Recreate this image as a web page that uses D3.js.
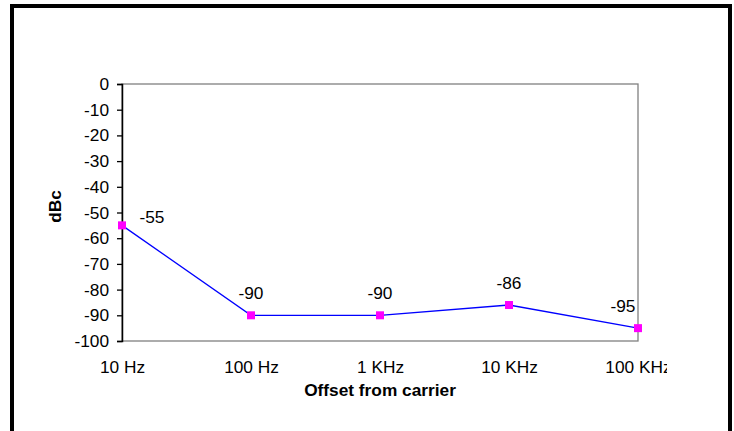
<!DOCTYPE html>
<html><head><meta charset="utf-8">
<script src="https://cdn.jsdelivr.net/npm/d3@7"></script>
<style>
html,body{margin:0;padding:0;background:#fff;}
svg{display:block;font-family:"Liberation Sans",Arial,sans-serif;}
</style></head>
<body>
<svg id="chart" width="734" height="431"></svg>
<script>
const categories = ["10 Hz", "100 Hz", "1 KHz", "10 KHz", "100 KHz"];
const values = [-55, -90, -90, -86, -95];
const yTicks = [0, -10, -20, -30, -40, -50, -60, -70, -80, -90, -100];
const xTitle = "Offset from carrier";
const yTitle = "dBc";

const svg = d3.select("#chart");
const W = 734, H = 431;
const plot = {left: 122, right: 638, top: 84, bottom: 341};
const FS = 17.3;

svg.append("rect").attr("x", 12).attr("y", 6).attr("width", 718).attr("height", 440)
  .attr("fill", "#fff").attr("stroke", "#000").attr("stroke-width", 4);

const x = d3.scalePoint().domain(categories).range([plot.left, plot.right]).padding(0);
const y = d3.scaleLinear().domain([-100, 0]).range([plot.bottom, plot.top]);

// plot area border (gray)
svg.append("rect").attr("x", plot.left).attr("y", plot.top)
  .attr("width", plot.right - plot.left).attr("height", plot.bottom - plot.top)
  .attr("fill", "none").attr("stroke", "#808080").attr("stroke-width", 1.3);

// Y axis
const yAxis = svg.append("g").attr("transform", `translate(${plot.left},0)`)
  .call(d3.axisLeft(y).tickValues(yTicks).tickSize(5).tickPadding(8).tickFormat(d3.format("d")));
yAxis.select(".domain").attr("stroke", "#000").attr("stroke-width", 1.5);
yAxis.selectAll(".tick line").attr("stroke", "#000").attr("stroke-width", 1.3);
yAxis.selectAll(".tick text").attr("font-size", FS).attr("fill", "#000")
  .attr("font-family", "Liberation Sans, Arial, sans-serif").text(d => d === 0 ? "0" : String(d));

// X axis labels (clipped on the right like the original)
svg.append("clipPath").attr("id", "clipx").append("rect")
  .attr("x", 0).attr("y", 0).attr("width", 667).attr("height", H);
const xAxis = svg.append("g").attr("transform", `translate(0,${plot.bottom})`)
  .attr("clip-path", "url(#clipx)")
  .call(d3.axisBottom(x).tickSize(0).tickPadding(20));
xAxis.select(".domain").remove();
xAxis.selectAll(".tick text").attr("font-size", FS).attr("fill", "#000")
  .attr("font-family", "Liberation Sans, Arial, sans-serif");

// line
svg.append("path").datum(values)
  .attr("fill", "none").attr("stroke", "#0000ff").attr("stroke-width", 1.3)
  .attr("d", d3.line().x((d, i) => x(categories[i])).y(d => y(d)));

// markers
const ms = 8;
svg.selectAll("rect.mk").data(values).enter().append("rect").attr("class", "mk")
  .attr("x", (d, i) => x(categories[i]) - ms / 2)
  .attr("y", d => y(d) - ms / 2)
  .attr("width", ms).attr("height", ms).attr("fill", "#ff00ff");

// data labels
svg.selectAll("text.dl").data(values).enter().append("text").attr("class", "dl")
  .attr("x", (d, i) => {
    const cx = x(categories[i]);
    if (i === 0) return cx + 30;
    if (i === values.length - 1) return cx - 15;
    return cx;
  })
  .attr("y", (d, i) => y(d) - (i === 0 ? 2 : 16))
  .attr("text-anchor", "middle")
  .attr("font-size", FS).attr("fill", "#000")
  .text(d => String(d));

// titles
svg.append("text").attr("x", (plot.left + plot.right) / 2).attr("y", 396)
  .attr("text-anchor", "middle").attr("font-size", FS).attr("font-weight", "bold")
  .text(xTitle);
svg.append("text").attr("transform", `translate(61,${(plot.top + plot.bottom) / 2 - 6}) rotate(-90)`)
  .attr("text-anchor", "middle").attr("font-size", FS).attr("font-weight", "bold")
  .text(yTitle);
</script>
</body></html>
